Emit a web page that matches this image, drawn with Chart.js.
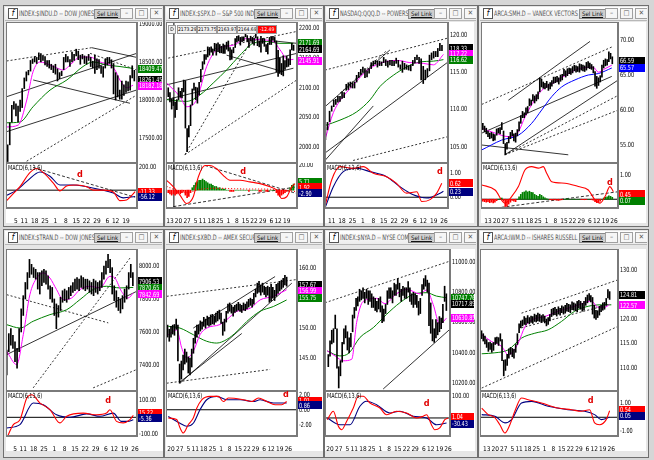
<!DOCTYPE html>
<html lang="en">
<head>
<meta charset="UTF-8">
<title>Index charts</title>
<script src="https://cdn.jsdelivr.net/npm/chart.js"></script>
<style>
  body { margin: 0; width: 654px; height: 460px; background: #d6d6d6; position: relative; overflow: hidden;
         font-family: 'DejaVu Sans Condensed', 'DejaVu Sans', sans-serif; }
  .win { position: absolute; border: 1px solid #6f6f6f; background: #e6e6e6; box-sizing: border-box; }
  .ttl { position: absolute; left: 1px; right: 1px; top: 1px; height: 13px; background: linear-gradient(#ffffff, #ececec);
         border-bottom: 1px solid #b8b8b8; font-size: 7.5px; line-height: 13px; color: #555; white-space: nowrap; overflow: hidden; }
  .ico { position: absolute; left: 3px; top: 1px; width: 8px; height: 9px; border: 1px solid #555; background: #fff;
         font-size: 8px; line-height: 9px; text-align: center; color: #000; font-style: italic; }
  .txt { position: absolute; left: 14px; top: 0; transform: scaleX(0.74); transform-origin: 0 0; }
  .lnk { position: absolute; top: 2px; height: 8px; padding: 0 2px; background: #cfcfcf; border: 1px solid #8a8a8a;
         font-size: 6px; line-height: 8px; color: #111; text-decoration: underline; }
  .btn { position: absolute; top: 1px; width: 11px; height: 9px; border: 1px solid #a0a0a0; background: #f6f6f6;
         font-size: 7px; line-height: 9px; text-align: center; color: #555; }
  canvas { position: absolute; background: #fff; }
  .ohlc { position: absolute; height: 7px; font-size: 5px; line-height: 7px; color: #000; background: #f2f2f2;
          border: 1px solid #9a9a9a; text-align: center; overflow: hidden; }
</style>
</head>
<body>
<script>
// trading-day index: Jun 10 2016 = 0 ... Sep 23 2016 = 73
const weekIdx = [1, 6, 11, 16, 20, 25, 30, 35, 40, 45, 50, 55, 60, 64, 69, 74];
const weekDay = ['13', '20', '27', '5', '11', '18', '25', '1', '8', '15', '22', '29', '6', '12', '19', '26'];
const weekMon = ['', '', '', 'Jul', '', '', '', 'Aug', '', '', '', '', 'Sep', '', '', ''];

// ---- INDEX:$INDU ----
const dowStart = 11;
const dowHi = [17355, 17410, 17700, 17930, 17980,  17950, 17920, 18000, 18150,
  18290, 18370, 18390, 18520, 18540,  18570, 18560, 18620, 18610, 18580,  18570, 18520, 18520, 18470, 18450,
  18470, 18410, 18360, 18380, 18560,  18600, 18570, 18530, 18630, 18600,  18668, 18640, 18590, 18600, 18580,
  18570, 18600, 18560, 18510, 18590,  18540, 18530, 18450, 18440, 18540,  18560, 18560, 18530, 18480,
  18360, 18320, 18130, 18250, 18200,  18250, 18240, 18320, 18450, 18390];
const dowLo = [17063, 17190, 17410, 17710, 17880,  17790, 17710, 17850, 17900,
  18150, 18250, 18330, 18380, 18480,  18500, 18480, 18530, 18500, 18520,  18460, 18440, 18420, 18400, 18360,
  18340, 18250, 18280, 18320, 18400,  18500, 18500, 18440, 18500, 18520,  18580, 18530, 18470, 18540, 18480,
  18470, 18520, 18440, 18420, 18350,  18400, 18420, 18350, 18300, 18420,  18460, 18480, 18420, 18080,
  18000, 18040, 18010, 18010, 18060,  18100, 18120, 18130, 18290, 18250];
const dowFast = [[11.5, 17645], [17.1, 17670], [21.2, 18000], [24.2, 18370], [27.6, 18500], [32.4, 18460], [35.8, 18420],
  [38.7, 18395], [43, 18485], [46.8, 18565], [51.7, 18565], [56.5, 18500], [61.3, 18460], [63.7, 18395], [66.1, 18260],
  [69.5, 18160], [72.4, 18195]];
const dowSlow = [[11.5, 17700], [17.9, 17710], [24.2, 17910], [32.4, 18130], [40.6, 18265], [48.3, 18440], [53.1, 18500],
  [59.9, 18460], [66.1, 18440], [72.4, 18415]];
const dowSolid = [[11.5, 18043, 74.2, 18614], [24.3, 18263, 70.9, 17957], [11.5, 17583, 74.2, 18132], [52.5, 18688, 74.2, 18560]];
const dowDashed = [[11.5, 18513, 52.5, 18688], [51.7, 18614, 74.2, 18395], [19.5, 17167, 74.2, 18066]];
const dowTicks = [19000, 18500, 18000, 17500];
const dowFlagVal = [18409, 18261, 18184];
const dowFlagTxt = ['18409.47', '18261.45', '18182.18'];
const dowMacd = [[11.5, -91], [14.7, -30], [17.9, 30], [22.7, 152], [25.9, 188], [29.2, 152], [34, 61], [37.2, -6],
  [40.4, 36], [45.2, 45], [50.1, 30], [53.3, 0], [58.1, 0], [62.9, -15], [66.1, -91], [69.3, -85], [71.8, -45], [73.4, -12]];
const dowSig = [[11.5, -45], [16.3, 0], [21.2, 76], [27.6, 158], [32.4, 121], [37.2, 45], [43.6, 45], [50.1, 30],
  [56.5, 6], [62.9, -24], [67.7, -67], [73.4, -55]];
const dowMacdTrend = [[24.3, 197, 73.4, -61]];
const dowMacdTicks = [200];
const dowMacdFlagVal = [-12, -58];
const dowMacdFlagTxt = ['-11.33', '-56.12'];
const dowMark = [46.8, 136];

// ---- INDEX:$SPX ----
const spxStart = 0;
const spxHi = [2100,  2092, 2081, 2083, 2076, 2080,  2100, 2094, 2099, 2113, 2112,  2031, 2036, 2071, 2098, 2108,
  2101, 2100, 2109, 2131,  2144, 2156, 2156, 2169, 2168,  2169, 2165, 2175, 2174, 2176,  2173, 2170, 2174, 2172, 2177,
  2179, 2168, 2164, 2168, 2183,  2187, 2188, 2185, 2186, 2186,  2193, 2188, 2183, 2187, 2185,  2184, 2193, 2186, 2179, 2187,
  2183, 2183, 2173, 2175, 2185,  2186, 2187, 2185, 2179,  2163, 2150, 2141, 2154, 2146,  2153, 2149, 2164, 2175, 2172];
const spxLo = [2085,  2076, 2064, 2070, 2050, 2063,  2080, 2084, 2083, 2093, 2032,  1992, 2017, 2036, 2071, 2096,
  2080, 2074, 2088, 2110,  2131, 2140, 2148, 2152, 2155,  2160, 2155, 2162, 2155, 2161,  2159, 2159, 2158, 2158, 2165,
  2162, 2147, 2148, 2159, 2168,  2177, 2179, 2172, 2178, 2179,  2186, 2178, 2168, 2179, 2175,  2172, 2184, 2171, 2169, 2160,
  2175, 2170, 2161, 2157, 2173,  2173, 2181, 2177, 2127,  2119, 2124, 2122, 2120, 2131,  2135, 2136, 2139, 2164, 2163];
const spxFast = [[-0.9, 2108], [6.8, 2085], [10.7, 2068], [16.6, 2080], [22.4, 2136], [28.2, 2164], [37.9, 2172],
  [45.7, 2183], [53.5, 2181], [61.3, 2178], [65.1, 2164], [70, 2147], [72.9, 2148]];
const spxSlow = [[-0.9, 2080], [10.7, 2077], [18.5, 2088], [26.2, 2108], [34, 2130], [41.8, 2155], [49.5, 2175],
  [57.3, 2178], [65.1, 2175], [72.9, 2175]];
const spxSolid = [[-0.9, 2105, 74.8, 2158], [-0.9, 2080, 72.9, 2133], [34, 2155, 67, 2127], [58.5, 2180, 74.8, 2175]];
const spxDashed = [[0, 2150, 74.8, 2195], [9.7, 1987, 74.8, 2113], [9.7, 1987, 51.5, 2195]];
const spxCursor = 3.3;
const spxTicks = [2200, 2150, 2100, 2050, 2000];
const spxFlagVal = [2176, 2164.7, 2146];
const spxFlagTxt = ['2171.69', '2164.69', '2145.91'];
const spxOhlc = ['2173.29', '2173.75', '2163.97', '2164.69', '-12.49'];
const spxMacd = [[-0.9, 8], [3, 2.7], [6.8, -4], [10.7, -10.7], [14.6, -5.3], [17.5, 10.7], [21.4, 20], [24.3, 20],
  [28.2, 17.3], [32, 12], [36, 8], [41.8, 8], [47.6, 6.7], [53.5, 5.3], [59.3, 2.7], [63.2, 0], [66.1, -6.7],
  [69, -5.3], [71.9, 2.7], [73.8, 5.3]];
const spxSig = [[-0.9, 3], [10, -2], [20, 1], [30, 1.5], [45, 1], [60, 0.8], [73.8, -1]];
const spxHist = [-2, -3, -4, -3, -4, -3,  -2, -3, -2, -1, -4,  -6, -5, -2, 2, 4,  6, 7, 8, 8,  9, 8, 7, 6, 5,
  5, 4, 3, 3, 2,  2, 1, 1, 1, 0,  0, -1, -1, -1, 0,  0, 0, 0, 0, 0,  0, 0, -1, 0, 0,  0, 0, 0, -1, -1,
  0, 0, -1, -1, 0,  0, 0, 0, -2,  -4, -5, -4, -3, -2,  -1, 0, 2, 4, 5];
const spxMacdTrend = [[3, -13.3, 74.8, 2.7], [21.4, 20, 74.8, -2.7]];
const spxMacdTicks = [20];
const spxMacdFlagVal = [7, 2.2, -2.6];
const spxMacdFlagTxt = ['5.71', '1.92', '-2.90'];
const spxMark = [43.7, 14.7];

// ---- NASDAQ:QQQ ----
const qqqStart = 17;
const qqqHi = [107.6, 108.3, 109.8,  110.5, 111.3, 111.4, 111.8, 111.8,  112.4, 112.3, 113.4, 113.6, 113.7,
  113.6, 113.7, 114.6, 115.0, 115.4,  115.7, 115.5, 115.2, 115.5, 116.3,  116.5, 116.6, 116.5, 116.5, 116.4,
  117.0, 116.7, 116.5, 116.6, 116.6,  116.5, 116.9, 116.6, 116.0, 116.5,  116.2, 116.0, 115.9, 116.0, 116.6,
  117.0, 117.3, 117.0, 116.8,  115.8, 115.3, 115.5, 117.3, 117.6,  117.8, 117.8, 118.2, 118.9, 118.6];
const qqqLo = [106.0, 107.3, 108.4,  109.8, 110.4, 110.7, 111.0, 111.1,  111.5, 111.6, 112.6, 112.7, 113.0,
  112.9, 112.9, 113.7, 114.3, 114.7,  115.0, 114.3, 114.4, 114.9, 115.5,  115.9, 116.1, 115.7, 115.9, 115.9,
  116.3, 115.9, 115.7, 116.0, 115.9,  115.9, 116.2, 115.7, 115.4, 115.0,  115.4, 115.4, 115.3, 115.2, 115.9,
  116.3, 116.7, 116.2, 114.0,  113.5, 114.0, 114.4, 115.2, 116.7,  116.9, 117.1, 117.1, 117.9, 117.9];
const qqqFast = [[17, 106.2], [20.8, 109.6], [24, 111.2], [30.4, 113.3], [36.8, 115.2], [43.2, 116.2], [51.2, 116.6],
  [57.6, 116.3], [64, 116.2], [68.9, 116.0], [73.7, 117.4]];
const qqqSlow = [[17, 107.9], [24, 108.6], [32, 109.7], [38.4, 111.3], [43.2, 113.1], [49.6, 114.6], [56, 115.7],
  [62.5, 116.4], [68.9, 116.5], [73.7, 116.7]];
const qqqSolid = [[16.8, 110.4, 48, 118], [16.8, 104.2, 76, 116.4], [16.8, 103.2, 40, 110.5]];
const qqqDashed = [[16.8, 115.3, 76, 119.6], [30.3, 103.2, 76, 106.4], [24, 112.2, 46, 117.8]];
const qqqTicks = [120, 115, 110, 105];
const qqqFlagVal = [118.2, 117.45, 116.65];
const qqqFlagTxt = ['118.33', '117.22', '116.62'];
const qqqMacd = [[16.8, -0.39], [20, 0.72], [24, 1.28], [30.4, 1.21], [35.2, 1.28], [40, 1.0], [46.4, 0.86],
  [51.2, 0.58], [56, 0.17], [60.9, 0.23], [63.3, -0.18], [67.3, -0.1], [70.5, 0.17], [72.9, 0.58]];
const qqqSig = [[16.8, -0.45], [20.8, 0.44], [25.6, 1.07], [32, 1.21], [38.4, 1.07], [46.4, 0.86], [52.8, 0.44],
  [59.2, 0.1], [65.7, -0.03], [72.1, 0.17], [73.7, 0.25]];
const qqqMacdTicks = [1, 0];
const qqqMacdFlagVal = [0.58, 0.23];
const qqqMacdFlagTxt = ['0.62', '0.23'];
const qqqMark = [72, 1.07];

// ---- ARCA:SMH ----
const smhStart = -2;
const smhHi = [58.1, 57.7, 57.4,  57.0, 56.7, 56.8, 56.6, 56.5,  57.3, 57.4, 57.5, 58.2, 57.0,  55.2, 55.4, 56.2, 56.8, 57.1,
  56.6, 56.7, 57.2, 58.3,  59.2, 59.8, 59.6, 60.3, 60.5,  61.6, 61.4, 62.2, 62.0, 62.2,  62.6, 64.6, 64.4, 64.0, 63.8,
  64.1, 63.7, 63.9, 64.2, 64.7,  64.7, 64.8, 64.6, 65.0, 65.1,  65.8, 65.6, 65.9, 66.0, 65.9,  66.2, 66.4, 66.3, 66.2, 66.6,
  66.5, 66.4, 66.3, 66.8, 66.9,  66.7, 66.5, 66.2, 65.5,  64.8, 64.6, 64.9, 66.4, 67.1,  67.3, 67.2, 68.3, 68.1, 67.6];
const smhLo = [57.2, 56.9, 56.6,  56.2, 55.9, 56.0, 55.6, 55.7,  56.4, 56.7, 56.6, 57.2, 55.2,  53.6, 54.4, 55.3, 55.9, 56.3,
  55.6, 55.4, 56.3, 57.0,  58.1, 58.9, 58.9, 59.3, 59.6,  60.6, 60.7, 61.3, 61.0, 61.3,  61.6, 62.6, 63.3, 63.1, 63.0,
  63.2, 62.8, 63.0, 63.4, 63.8,  63.9, 64.0, 63.7, 64.1, 64.3,  64.9, 64.7, 64.9, 65.2, 65.1,  65.3, 65.6, 65.4, 65.5, 65.4,
  65.7, 65.6, 65.5, 65.7, 66.0,  65.9, 65.8, 65.3, 63.4,  63.1, 63.5, 64.0, 64.7, 66.0,  66.3, 66.4, 66.9, 67.3, 66.6];
const smhFast = [[-2.6, 57.4], [5.1, 56.7], [12.8, 56.2], [18.6, 56.9], [22.4, 59.0], [28.2, 61.5], [32.1, 62.8],
  [39.8, 64.0], [47.5, 65.2], [55.3, 66.0], [62, 66.1], [64.9, 65.4], [68.8, 65.9], [72.7, 66.4]];
const smhSlow = [[-2.6, 54.3], [8.9, 55.7], [18.6, 56.4], [26.3, 58.1], [32.1, 60], [37.9, 61.9], [43.7, 63.3],
  [51.4, 64.3], [59.1, 65], [64.9, 65.2], [72.7, 66]];
const smhSolid = [[12.8, 61.4, 60.1, 69.8], [-2.6, 56.7, 72.7, 64.8], [-2.6, 55, 47.5, 53.6], [10.8, 53.6, 76.5, 64.3]];
const smhDashed = [[-2.6, 60.8, 72.7, 69.0], [10.8, 53.6, 76.5, 62.1], [10.8, 53.6, 76.5, 60.0]];
const smhTicks = [70, 65, 60, 55];
const smhFlagVal = [67.0, 66.0];
const smhFlagTxt = ['66.59', '65.57'];
const smhMacd = [[-2.6, 0.59], [5.1, 0.38], [10.8, -0.16], [14.7, 0.11], [18.6, 0.52], [22.4, 1.2], [26.3, 1.34],
  [30.2, 1.28], [33, 1.34], [35, 1.07], [37.9, 0.72], [45.6, 0.66], [53.3, 0.52], [59.1, 0.38], [63, -0.03],
  [65.9, -0.16], [68.8, 0.11], [71.6, 0.52], [73.6, 0.31]];
const smhHist = [-0.08, -0.1, -0.12,  -0.1, -0.14, -0.12, -0.15, -0.12,  -0.06, 0, 0.02, 0.05, -0.08,
  -0.3, -0.28, -0.2, -0.12, -0.05,  -0.08, -0.1, 0, 0.1,  0.2, 0.28, 0.3, 0.35, 0.3,  0.33, 0.28, 0.27, 0.2, 0.16,
  0.12, 0.2, 0.16, 0.1, 0.06,  0.02, 0, -0.02, -0.03, -0.02,  -0.03, -0.04, -0.05, -0.03, -0.02,  0, 0.01, 0.02, 0.01, 0,
  0, 0.01, 0, 0, 0,  -0.01, -0.02, -0.02, -0.01, 0,  0, -0.02, -0.04, -0.1,  -0.14, -0.12, -0.08, 0, 0.05,
  0.08, 0.1, 0.14, 0.12, 0.08];
const smhMacdTrend = [[-2.6, -0.44, 76.5, 0.31]];
const smhMacdTicks = [1, 0];
const smhMacdFlagVal = [0.2, -0.06];
const smhMacdFlagTxt = ['0.45', '0.07'];
const smhMark = [71.6, 0.68];

// ---- INDEX:$TRAN ----
const tranStart = 12;
const tranHi = [7490, 7590, 7620, 7580,  7540, 7500, 7620, 7740,  7820, 7900, 7960, 8040, 8010,  7990, 7980, 7960, 7960, 7970,
  7980, 7970, 7940, 7880, 7870,  7800, 7770, 7760, 7810, 7850,  7860, 7850, 7870, 7880, 7900,  7920, 7930, 7920, 7940, 7930,
  7920, 7920, 7910, 7900, 7920,  7910, 7900, 7910, 7960, 8000,  8030, 8070, 8040, 7990,  7880, 7850, 7810, 7800, 7820,
  7860, 7880, 7960, 8010, 7960];
const tranLo = [7340, 7480, 7520, 7500,  7420, 7380, 7480, 7600,  7700, 7800, 7860, 7930, 7950,  7930, 7920, 7860, 7830, 7880,
  7900, 7890, 7860, 7800, 7780,  7700, 7620, 7690, 7730, 7780,  7790, 7780, 7800, 7820, 7840,  7850, 7860, 7850, 7870, 7860,
  7850, 7860, 7840, 7830, 7820,  7840, 7830, 7850, 7870, 7920,  7950, 7990, 7960, 7830,  7790, 7750, 7730, 7715, 7740,
  7780, 7800, 7860, 7930, 7880];
const tranFast = [[12, 7483], [16.8, 7402], [20, 7584], [23.2, 7826], [26.5, 7927], [29.7, 7958], [32.9, 7927], [36.1, 7857],
  [39.3, 7796], [43.4, 7806], [47.4, 7857], [52.2, 7877], [57.1, 7867], [61.9, 7937], [64.3, 7927], [67.5, 7846],
  [70.7, 7806], [73.2, 7836]];
const tranSlow = [[12, 7644], [18.4, 7624], [24.8, 7665], [32.9, 7705], [41, 7735], [47.4, 7796], [53.8, 7857],
  [60.3, 7877], [66.7, 7867], [73.2, 7870]];
const tranSolid = [[12, 7463, 74.8, 7846]];
const tranDashed = [[12, 7826, 61.1, 7655], [53.8, 7261, 74.8, 7372], [24.8, 7261, 71.6, 8048]];
const tranTicks = [8000, 7800, 7600, 7400];
const tranFlagVal = [7906, 7866, 7828];
const tranFlagTxt = ['7906.53', '7870.65', '7842.69'];
const tranMacd = [[12, -122], [15.2, -43], [18.4, -14], [21.7, 114], [24.1, 133], [28.1, 84], [32.9, 45], [37.7, -33],
  [41, 6], [49, 25], [55.4, 15], [60.3, 25], [61.9, 45], [65.1, -24], [68.3, -33], [71.6, -14], [73.2, 12]];
const tranSig = [[12, -63], [18.4, -43], [24.8, 84], [29.7, 74], [36.1, 15], [42.6, 0], [50.6, 20], [57.1, 6],
  [63.5, 25], [67.5, -24], [70.5, -24], [73.2, -14]];
const tranMacdTicks = [100, -100];
const tranMacdFlagVal = [25, -6];
const tranMacdFlagTxt = ['15.22', '-5.36'];
const tranMark = [61, 96];

// ---- INDEX:$XBD ----
const xbdStart = 4;
const xbdHi = [150.5, 149.8,  150.3, 150.5, 150.6, 151.5, 150.5,  144.0, 144.5, 145.5, 146.5, 146.0,  145.2, 145.0, 146.5, 148.3,
  149.5, 150.5, 150.5, 151.2, 151.0,  151.8, 151.5, 152.0, 151.8, 152.2,  152.3, 152.0, 152.5, 152.8, 153.0,
  152.5, 151.0, 151.5, 152.8, 154.0,  154.2, 153.8, 153.5, 153.8, 154.0,  154.3, 154.0, 153.8, 154.2, 154.0,
  154.4, 154.8, 155.0, 154.8, 155.8,  156.5, 157.5, 157.8, 157.2, 157.5,  157.0, 156.8, 157.0, 156.8,
  157.3, 156.8, 156.3, 157.3, 157.5,  157.8, 158.0, 158.3, 158.8, 158.5];
const xbdLo = [148.5, 147.8,  148.5, 149.0, 148.8, 149.8, 144.5,  140.8, 141.5, 143.0, 144.0, 144.3,  142.5, 142.2, 143.5, 145.8,
  147.5, 148.5, 149.0, 149.5, 149.8,  150.3, 150.0, 150.5, 150.3, 150.5,  150.7, 150.6, 151.0, 151.2, 151.5,
  150.8, 148.8, 149.5, 151.0, 152.5,  152.8, 152.5, 152.0, 152.6, 152.8,  153.0, 152.8, 152.6, 153.0, 152.9,
  153.2, 153.5, 153.8, 153.5, 154.0,  155.2, 155.8, 156.0, 155.5, 156.0,  155.6, 155.2, 155.5, 154.3,
  154.5, 155.0, 154.6, 155.3, 155.8,  156.2, 156.5, 156.8, 157.2, 157.0];
const xbdFast = [[4.4, 148.9], [9.3, 149.7], [12.2, 146.7], [15.1, 145], [18.9, 146.1], [22.8, 148.9], [26.7, 150],
  [34.4, 150.6], [38.3, 151.4], [44.1, 152.8], [51.8, 153.3], [57.6, 154.7], [65.3, 155.3], [73, 156.4]];
const xbdSlow = [[4.4, 150.3], [11.2, 150], [18.9, 148.9], [26.7, 147.8], [32.5, 147.5], [38.3, 148.1], [44.1, 149.4],
  [49.9, 151.1], [57.6, 152.8], [65.3, 153.6], [73, 154.7]];
const xbdSolid = [[18.9, 150, 66.3, 158.6], [11.2, 140.8, 76, 157.5], [11.2, 141, 47, 149.1]];
const xbdDashed = [[3.5, 155.3, 78.9, 158.1], [3.5, 140.8, 63.4, 143.1]];
const xbdTicks = [160, 155, 150, 145];
const xbdFlagVal = [157.2, 156.2, 155.0];
const xbdFlagTxt = ['157.67', '156.99', '155.75'];
const xbdMacd = [[4.4, -1.1], [9.3, -1.3], [11.2, -2.4], [13.1, -3.1], [16, -2], [18.9, -1.1], [20.9, 0.2], [23.8, 1.33],
  [28.6, 1.78], [33.5, 1.78], [36.3, 1.1], [39.2, 1.56], [48, 1.33], [52.8, 1.1], [56.6, 1.56], [61.5, 1.1],
  [66.3, 0.67], [70.1, 0.67], [73, 1.1]];
const xbdSig = [[4.4, -0.9], [11.2, -1.8], [15.1, -2.2], [18.9, -1.8], [22.8, 0], [26.7, 1.33], [32.5, 1.78],
  [38.3, 1.33], [46, 1.33], [53.8, 1.1], [57.6, 1.33], [65.3, 0.9], [73, 0.9]];
const xbdMacdTicks = [2, 0, -2];
const xbdMacdFlagVal = [1.16, 0.6];
const xbdMacdFlagTxt = ['1.01', '0.86'];
const xbdMark = [72.5, 2.0];

// ---- INDEX:$NYA ----
const nyaStart = 5;
const nyaHi = [10390,  10480, 10550, 10560, 10650, 10560,  10310, 10350, 10470, 10560, 10580,  10540, 10500, 10530, 10650,
  10700, 10760, 10770, 10820, 10810,  10830, 10800, 10820, 10810, 10810,  10790, 10770, 10760, 10740, 10760,
  10770, 10710, 10690, 10720, 10810,  10830, 10830, 10810, 10860, 10850,  10890, 10860, 10820, 10840, 10830,
  10830, 10870, 10830, 10790, 10800,  10790, 10780, 10740, 10760, 10850,  10890, 10910, 10880, 10860,
  10730, 10620, 10560, 10620, 10600,  10640, 10630, 10720, 10840, 10790];
const nyaLo = [10310,  10380, 10460, 10470, 10560, 10300,  10170, 10250, 10340, 10460, 10500,  10420, 10400, 10440, 10540,
  10630, 10680, 10710, 10740, 10750,  10760, 10730, 10760, 10720, 10740,  10700, 10700, 10680, 10670, 10690,
  10670, 10600, 10610, 10660, 10720,  10760, 10760, 10730, 10780, 10780,  10820, 10770, 10740, 10780, 10760,
  10760, 10800, 10740, 10720, 10700,  10720, 10700, 10650, 10660, 10780,  10820, 10840, 10800, 10580,
  10530, 10480, 10470, 10500, 10520,  10540, 10560, 10600, 10740, 10680];
const nyaFast = [[4.4, 10414], [8.9, 10381], [13.6, 10349], [18.5, 10359], [21.3, 10600], [25.1, 10740], [32.8, 10760],
  [37.6, 10725], [44.3, 10790], [50.1, 10820], [57.7, 10790], [61.6, 10815], [65.4, 10720], [69.2, 10589], [73.1, 10630]];
const nyaSlow = [[4.4, 10414], [11.7, 10381], [16.9, 10400], [23.2, 10502], [30.9, 10567], [38.6, 10655], [46.2, 10731],
  [53.9, 10786], [61.6, 10797], [67.3, 10775], [73.1, 10764]];
const nyaSolid = [[36.6, 10163, 75, 10556]];
const nyaDashed = [[3.1, 10731, 75, 11005]];
const nyaTicks = [11000, 10800, 10600, 10400, 10200];
const nyaFlagVal = [10764, 10722, 10633];
const nyaFlagTxt = ['10747.76', '10717.89', '10630.85'];
const nyaMacd = [[4.4, -8], [7.9, 31], [10.8, -38], [12.7, -54], [15.6, -15], [19.4, 46], [22.3, 100], [25.1, 100],
  [29, 69], [34.7, 46], [38.6, 15], [44.3, 31], [50.1, 23], [55.8, 0], [59.6, 8], [61.6, 15], [64.4, -31],
  [66.3, -54], [69.2, -46], [72.1, -8], [74, 0]];
const nyaSig = [[4.4, 0], [11.7, -31], [17.5, -31], [23.2, 54], [27, 77], [32.8, 61], [40.5, 23], [46.2, 31],
  [53.9, 8], [61.6, 0], [67.3, -31], [73.1, -23]];
const nyaMacdTicks = [100];
const nyaMacdFlagVal = [5, -28];
const nyaMacdFlagTxt = ['1.04', '-30.43'];
const nyaMark = [61.6, 64];

// ---- ARCA:IWM ----
const iwmStart = -2;
const iwmHi = [117.6, 117.0, 116.5,  115.8, 115.2, 115.3, 115.0, 115.2,  116.2, 116.3, 116.2, 117.0, 115.8,
  111.6, 111.7, 112.8, 113.9, 114.2,  114.0, 113.8, 114.8, 117.0,  119.0, 119.6, 119.8, 120.5, 120.2,
  120.7, 120.3, 120.6, 120.5, 121.0,  120.8, 121.2, 121.0, 120.7, 120.9,  120.6, 120.0, 120.3, 120.9, 122.0,
  122.2, 122.4, 122.0, 122.5, 122.2,  122.7, 122.5, 122.8, 123.2, 123.0,  122.9, 123.5, 123.3, 123.1, 123.6,
  123.8, 123.6, 123.2, 123.6, 124.4,  124.9, 125.2, 124.8, 124.4,  122.8, 121.8, 121.7, 122.6, 122.8,
  123.3, 123.4, 124.2, 126.0, 125.6];
const iwmLo = [116.0, 115.5, 114.9,  114.2, 113.4, 113.8, 113.2, 113.6,  114.8, 115.0, 114.6, 115.5, 111.5,
  108.4, 109.5, 110.5, 112.0, 112.8,  112.3, 112.0, 113.2, 114.8,  117.2, 118.2, 118.6, 118.9, 118.8,
  119.2, 119.0, 119.3, 119.1, 119.5,  119.4, 119.6, 119.5, 119.3, 119.5,  119.2, 118.6, 118.9, 119.6, 120.5,
  120.8, 120.9, 120.6, 121.0, 120.8,  121.3, 121.0, 121.2, 121.6, 121.5,  121.3, 121.9, 121.8, 121.7, 121.5,
  122.2, 122.0, 121.6, 121.8, 122.8,  123.3, 123.8, 123.5, 121.0,  120.2, 119.9, 120.3, 120.8, 121.5,
  121.8, 122.0, 122.8, 124.3, 124.0];
const iwmFast = [[-1.9, 116.8], [3.9, 115.4], [9.8, 114.4], [13.6, 112.7], [16.6, 113.4], [19.5, 115.1], [23.4, 118.4],
  [27.3, 119.8], [35.1, 120.5], [42.8, 121.6], [50.6, 122.4], [58.4, 123.3], [62.3, 123.7], [66.2, 122.4],
  [70.1, 122.4], [73, 123.0]];
const iwmSlow = [[-1.9, 112.9], [5.8, 113.1], [13.6, 113.7], [21.4, 116.1], [29.2, 117.1], [37, 117.8], [44.8, 119.5],
  [52.6, 121.6], [60.4, 122.6], [68.1, 122.9], [74, 122.9]];
const iwmSolid = [];
const iwmDashed = [[21.4, 121.2, 77.9, 128], [21.4, 118.2, 72, 122.9], [-1.9, 105.9, 77.9, 118.5]];
const iwmTicks = [130, 125, 120, 115, 110];
const iwmFlagVal = [124.9, 122.8];
const iwmFlagTxt = ['124.81', '122.57'];
const iwmMacd = [[-1.9, 0.66], [1.9, 0.19], [5.8, -0.02], [8.7, -0.53], [11.7, -1.12], [14.6, -0.53], [17.5, 0.43],
  [21.4, 1.38], [25.3, 1.26], [33.1, 1.02], [42.8, 0.66], [50.6, 0.54], [56.4, 0.43], [61.3, 0.54], [64.2, -0.4],
  [67.1, -0.53], [71, -0.17], [73, 0.47]];
const iwmSig = [[-1.9, 0.19], [5.8, 0.07], [11.7, -0.4], [15.6, -0.17], [21.4, 1.02], [27.3, 1.14], [37, 0.79],
  [48.6, 0.54], [58.4, 0.43], [64.2, 0.19], [68.1, -0.17], [73, 0.0]];
const iwmMacdTicks = [1, -1];
const iwmMacdFlagVal = [0.54, 0.1];
const iwmMacdFlagTxt = ['0.54', '0.05'];
const iwmMark = [61.9, 1.19];

const titles = ['INDEX:$INDU.D -- DOW JONES I', 'INDEX:$SPX.D -- S&P 500 INDEX', 'NASDAQ:QQQ.D -- POWERSHARES Q',
  'ARCA:SMH.D -- VANECK VECTORS SE', 'INDEX:$TRAN.D -- DOW JONES TR', 'INDEX:$XBD.D -- AMEX SECURIT',
  'INDEX:$NYA.D -- NYSE COMPOS', 'ARCA:IWM.D -- ISHARES RUSSELL 20'];

const FONT = "'DejaVu Sans Condensed', 'DejaVu Sans', sans-serif";
Chart.defaults.font.family = FONT;
Chart.defaults.font.size = 6;
Chart.defaults.color = '#000';

const GREEN = '#008000', MAG = '#ff00ff', RED = '#ff0000', NAVY = '#000080', BLUE = '#0000ff';

// window frames and chart placement
const wins = [
  { x: 3, y: 5, w: 161, h: 222 }, { x: 164, y: 5, w: 160, h: 222 }, { x: 324, y: 5, w: 154, h: 222 }, { x: 478, y: 5, w: 171, h: 222 },
  { x: 3, y: 229, w: 161, h: 229 }, { x: 164, y: 229, w: 160, h: 229 }, { x: 324, y: 229, w: 154, h: 229 }, { x: 478, y: 229, w: 171, h: 229 }
];

const panels = [
  { left: 6, top: 22, pw: 131, aw: 26, ph: 141, mh: 45, xmin: 11.2, xmax: 74.3, tmax: 69, ymin: 17171, ymax: 19026,
    start: dowStart, hi: dowHi, lo: dowLo, fast: dowFast, slow: dowSlow, slowColor: GREEN, solid: dowSolid, dashed: dowDashed,
    yt: dowTicks, flags: [dowFlagVal, dowFlagTxt, [GREEN, '#000', MAG]],
    mmin: -155, mmax: 236, macd: dowMacd, sig: dowSig, sigColor: NAVY, mtrend: dowMacdTrend, mt: dowMacdTicks,
    mflags: [dowMacdFlagVal, dowMacdFlagTxt, [RED, NAVY]], mark: dowMark, zero: true },
  { left: 166, top: 22, pw: 131, aw: 26, ph: 141, mh: 45, xmin: -1.3, xmax: 75, tmax: 69, ymin: 1973, ymax: 2211,
    start: spxStart, hi: spxHi, lo: spxLo, fast: spxFast, slow: spxSlow, slowColor: GREEN, solid: spxSolid, dashed: spxDashed,
    yt: spxTicks, flags: [spxFlagVal, spxFlagTxt, [GREEN, '#000', MAG]], cursor: spxCursor,
    mmin: -14.4, mmax: 22, macd: spxMacd, sig: spxSig, sigColor: RED, sigDash: [1, 2], hist: spxHist, mtrend: spxMacdTrend,
    mt: spxMacdTicks, mflags: [spxMacdFlagVal, spxMacdFlagTxt, [GREEN, RED, NAVY]], mark: spxMark, zero: false },
  { left: 325, top: 22, pw: 123, aw: 26, ph: 141, mh: 45, xmin: 16.8, xmax: 75.9, tmax: 80, ymin: 102.86, ymax: 121.74,
    start: qqqStart, hi: qqqHi, lo: qqqLo, fast: qqqFast, slow: qqqSlow, slowColor: GREEN, solid: qqqSolid, dashed: qqqDashed,
    yt: qqqTicks, flags: [qqqFlagVal, qqqFlagTxt, ['#000', MAG, GREEN]],
    mmin: -0.45, mmax: 1.43, macd: qqqMacd, sig: qqqSig, sigColor: NAVY, mtrend: [], mt: qqqMacdTicks,
    mflags: [qqqMacdFlagVal, qqqMacdFlagTxt, [RED, NAVY]], mark: qqqMark, zero: true },
  { left: 481, top: 22, pw: 137, aw: 28, ph: 141, mh: 45, xmin: -3.05, xmax: 76.3, tmax: 80, ymin: 52.43, ymax: 72.57,
    start: smhStart, hi: smhHi, lo: smhLo, fast: smhFast, slow: smhSlow, slowColor: BLUE, solid: smhSolid, dashed: smhDashed,
    yt: smhTicks, flags: [smhFlagVal, smhFlagTxt, ['#000', BLUE]],
    mmin: -0.36, mmax: 1.49, macd: smhMacd, hist: smhHist, mtrend: smhMacdTrend, mt: smhMacdTicks,
    mflags: [smhMacdFlagVal, smhMacdFlagTxt, [RED, GREEN]], mark: smhMark, zero: true },
  { left: 6, top: 249, pw: 131, aw: 26, ph: 142, mh: 45, xmin: 11.65, xmax: 75, tmax: 80, ymin: 7242, ymax: 8103,
    start: tranStart, hi: tranHi, lo: tranLo, fast: tranFast, slow: tranSlow, slowColor: GREEN, solid: tranSolid, dashed: tranDashed,
    yt: tranTicks, flags: [tranFlagVal, tranFlagTxt, ['#000', GREEN, MAG]],
    mmin: -110, mmax: 155, macd: tranMacd, sig: tranSig, sigColor: NAVY, mtrend: [], mt: tranMacdTicks,
    mflags: [tranMacdFlagVal, tranMacdFlagTxt, [RED, NAVY]], mark: tranMark, zero: true },
  { left: 166, top: 249, pw: 131, aw: 26, ph: 142, mh: 45, xmin: 3.1, xmax: 79, tmax: 80, ymin: 139.5, ymax: 163.2,
    start: xbdStart, hi: xbdHi, lo: xbdLo, fast: xbdFast, slow: xbdSlow, slowColor: GREEN, solid: xbdSolid, dashed: xbdDashed,
    yt: xbdTicks, flags: [xbdFlagVal, xbdFlagTxt, ['#000', MAG, GREEN]],
    mmin: -3.5, mmax: 2.5, macd: xbdMacd, sig: xbdSig, sigColor: NAVY, mtrend: [], mt: xbdMacdTicks,
    mflags: [xbdMacdFlagVal, xbdMacdFlagTxt, [RED, NAVY]], mark: xbdMark, zero: true },
  { left: 325, top: 249, pw: 125, aw: 25, ph: 142, mh: 45, xmin: 3.1, xmax: 75.1, tmax: 80, ymin: 10150, ymax: 11085,
    start: nyaStart, hi: nyaHi, lo: nyaLo, fast: nyaFast, slow: nyaSlow, slowColor: GREEN, solid: nyaSolid, dashed: nyaDashed,
    yt: nyaTicks, flags: [nyaFlagVal, nyaFlagTxt, [GREEN, '#000', MAG]],
    mmin: -83, mmax: 124, macd: nyaMacd, sig: nyaSig, sigColor: NAVY, mtrend: [], mt: nyaMacdTicks,
    mflags: [nyaMacdFlagVal, nyaMacdFlagTxt, [RED, NAVY]], mark: nyaMark, zero: true },
  { left: 480, top: 249, pw: 138, aw: 28, ph: 142, mh: 45, xmin: -2.9, xmax: 77.9, tmax: 80, ymin: 105.3, ymax: 134.3,
    start: iwmStart, hi: iwmHi, lo: iwmLo, fast: iwmFast, slow: iwmSlow, slowColor: GREEN, solid: iwmSolid, dashed: iwmDashed,
    yt: iwmTicks, flags: [iwmFlagVal, iwmFlagTxt, ['#000', MAG]],
    mmin: -1.34, mmax: 1.88, macd: iwmMacd, sig: iwmSig, sigColor: NAVY, mtrend: [], mt: iwmMacdTicks,
    mflags: [iwmMacdFlagVal, iwmMacdFlagTxt, [RED, NAVY]], mark: iwmMark, zero: true }
];

// narrow text helper (the platform font is squeezed horizontally)
function narrowText(ctx, s, x, y, sx) {
  ctx.save();
  ctx.translate(x, y);
  ctx.scale(sx, 1);
  ctx.fillText(s, 0, 0);
  ctx.restore();
}

// draws frame, right-hand value labels, value flags, the red "d" note and the indicator name
const overlay = {
  id: 'overlay',
  afterDraw(chart, args, o) {
    const ctx = chart.ctx, a = chart.chartArea, ys = chart.scales.y, xs = chart.scales.x;
    ctx.save();
    ctx.strokeStyle = '#7a7a7a';
    ctx.lineWidth = 1;
    ctx.strokeRect(a.left + 0.5, a.top + 0.5, a.right - a.left - 1, a.bottom - a.top - 1);
    ctx.font = '7px ' + FONT;
    ctx.textBaseline = 'middle';
    ctx.fillStyle = '#000';
    ys.ticks.forEach(t => narrowText(ctx, t.value.toFixed(2), a.right + 2, ys.getPixelForValue(t.value), 0.78));
    if (o.flags) {
      const [vals, txts, cols] = o.flags;
      vals.forEach((v, i) => {
        let py = ys.getPixelForValue(v);
        py = Math.max(a.top + 4, Math.min(a.bottom - 4, py));
        ctx.fillStyle = cols[i];
        ctx.fillRect(a.right + 1, Math.round(py - 4), chart.width - a.right - 2, 8);
        ctx.fillStyle = '#fff';
        narrowText(ctx, txts[i], a.right + 2, py + 0.5, 0.78);
      });
    }
    if (o.mark) {
      ctx.fillStyle = '#e00000';
      ctx.font = 'bold 9px ' + FONT;
      ctx.textAlign = 'center';
      ctx.fillText('d', xs.getPixelForValue(o.mark[0]), ys.getPixelForValue(o.mark[1]));
      ctx.textAlign = 'left';
    }
    if (o.name) {
      ctx.fillStyle = '#000';
      ctx.font = '7px ' + FONT;
      ctx.textBaseline = 'top';
      narrowText(ctx, o.name, a.left + 2, a.top + 2, 0.78);
    }
    ctx.restore();
  }
};

function seg(t, dash, lw) {
  return { type: 'line', data: [{ x: t[0], y: t[1] }, { x: t[2], y: t[3] }], borderColor: '#000', borderWidth: lw || 0.8,
    borderDash: dash, pointRadius: 0, clip: 0 };
}
function curve(pts, color, lw, dash) {
  return { type: 'line', data: pts.map(p => ({ x: p[0], y: p[1] })), borderColor: color, borderWidth: lw,
    borderDash: dash || [], pointRadius: 0, cubicInterpolationMode: 'monotone', clip: 0 };
}
function yAxis(min, max, ticks, w) {
  return {
    type: 'linear', position: 'right', min: min, max: max,
    grid: { display: false }, border: { display: true, color: '#7a7a7a' },
    ticks: { display: false },
    afterBuildTicks: s => { s.ticks = ticks.map(v => ({ value: v })); },
    afterFit: s => { s.width = w; s.paddingTop = 0; s.paddingBottom = 0; }
  };
}
function makeCanvas(left, top, w, h) {
  const c = document.createElement('canvas');
  c.width = w; c.height = h;
  c.style.left = left + 'px'; c.style.top = top + 'px';
  c.style.width = w + 'px'; c.style.height = h + 'px';
  document.body.appendChild(c);
  return c;
}

wins.forEach((w, k) => {
  const d = document.createElement('div');
  d.className = 'win';
  d.style.left = w.x + 'px'; d.style.top = w.y + 'px';
  d.style.width = w.w + 'px'; d.style.height = w.h + 'px';
  const bx = w.w - 48;
  d.innerHTML = '<div class="ttl"><div class="ico">f</div>' +
    '<div class="txt">' + titles[k].replace(/&/g, '&amp;') + '</div>' +
    '<div class="lnk" style="left:' + (bx - 24) + 'px">Sel Link</div>' +
    '<div class="btn" style="left:' + (bx + 2) + 'px">&ndash;</div>' +
    '<div class="btn" style="left:' + (bx + 17) + 'px">&#9633;</div>' +
    '<div class="btn" style="left:' + (bx + 32) + 'px">&#10005;</div></div>';
  document.body.appendChild(d);
});

panels.forEach(p => {
  const W = p.pw + p.aw;
  const xPrice = { type: 'linear', min: p.xmin, max: p.xmax, offset: false, display: false };

  const ds = [];
  ds.push({ type: 'bar', data: p.hi.map((h, i) => ({ x: p.start + i, y: [p.lo[i], h] })), backgroundColor: '#000',
    barThickness: 1, grouped: false });
  ds.push(curve(p.fast, MAG, 1));
  ds.push(curve(p.slow, p.slowColor, 1));
  p.solid.forEach(t => ds.push(seg(t, [])));
  p.dashed.forEach(t => ds.push(seg(t, [2, 2])));
  if (p.cursor !== undefined) ds.push(seg([p.cursor, p.ymin, p.cursor, p.ymax], [], 1));

  new Chart(makeCanvas(p.left, p.top, W, p.ph), {
    type: 'bar',
    data: { datasets: ds },
    options: {
      responsive: false, animation: false, events: [],
      layout: { padding: 0 },
      plugins: { legend: { display: false }, tooltip: { enabled: false }, overlay: { flags: p.flags } },
      scales: { x: xPrice, y: yAxis(p.ymin, p.ymax, p.yt, p.aw) }
    },
    plugins: [overlay]
  });

  const md = [];
  md.push(curve(p.macd, RED, 1.1));
  if (p.sig) md.push(curve(p.sig, p.sigColor, 1.1, p.sigDash));
  if (p.hist) md.push({ type: 'bar', data: p.hist.map((v, i) => ({ x: p.start + i, y: v })),
    backgroundColor: p.hist.map(v => v >= 0 ? GREEN : RED), barThickness: 1, grouped: false });
  if (p.zero) md.push(seg([p.xmin, 0, p.xmax, 0], [], 1));
  p.mtrend.forEach(t => md.push(seg(t, [3, 2])));
  if (p.cursor !== undefined) md.push(seg([p.cursor, p.mmin, p.cursor, p.mmax], [], 1));

  const xDates = {
    type: 'linear', position: 'bottom', min: p.xmin, max: p.xmax, offset: false,
    grid: { display: false }, border: { display: true, color: '#7a7a7a' },
    ticks: { autoSkip: false, maxRotation: 0, padding: 1, font: { size: 6.5 },
      callback: v => { const k = weekIdx.indexOf(v); return weekMon[k] ? [weekDay[k], weekMon[k]] : weekDay[k]; } },
    afterBuildTicks: s => { s.ticks = weekIdx.filter(v => v > s.min && v <= Math.min(p.tmax, s.max)).map(v => ({ value: v })); },
    afterFit: s => { s.height = 15; s.paddingLeft = 0; s.paddingRight = 0; }
  };

  new Chart(makeCanvas(p.left, p.top + p.ph, W, p.mh + 15), {
    type: 'bar',
    data: { datasets: md },
    options: {
      responsive: false, animation: false, events: [],
      layout: { padding: 0 },
      plugins: { legend: { display: false }, tooltip: { enabled: false },
        overlay: { flags: p.mflags, mark: p.mark, name: 'MACD(6,13,6)' } },
      scales: { x: xDates, y: yAxis(p.mmin, p.mmax, p.mt, p.aw) }
    },
    plugins: [overlay]
  });
});

// OHLC strip shown on the S&P panel
const ohlcX = [177, 197, 217, 237, 257];
spxOhlc.forEach((s, i) => {
  const d = document.createElement('div');
  d.className = 'ohlc';
  d.style.left = ohlcX[i] + 'px'; d.style.top = '25px'; d.style.width = '18px';
  if (i === 4) { d.style.background = '#ff0000'; d.style.color = '#fff'; }
  d.textContent = s;
  document.body.appendChild(d);
});
const dBox = document.createElement('div');
dBox.className = 'ohlc';
dBox.style.left = '168px'; dBox.style.top = '25px'; dBox.style.width = '6px';
dBox.textContent = 'D';
document.body.appendChild(dBox);
</script>
</body>
</html>
